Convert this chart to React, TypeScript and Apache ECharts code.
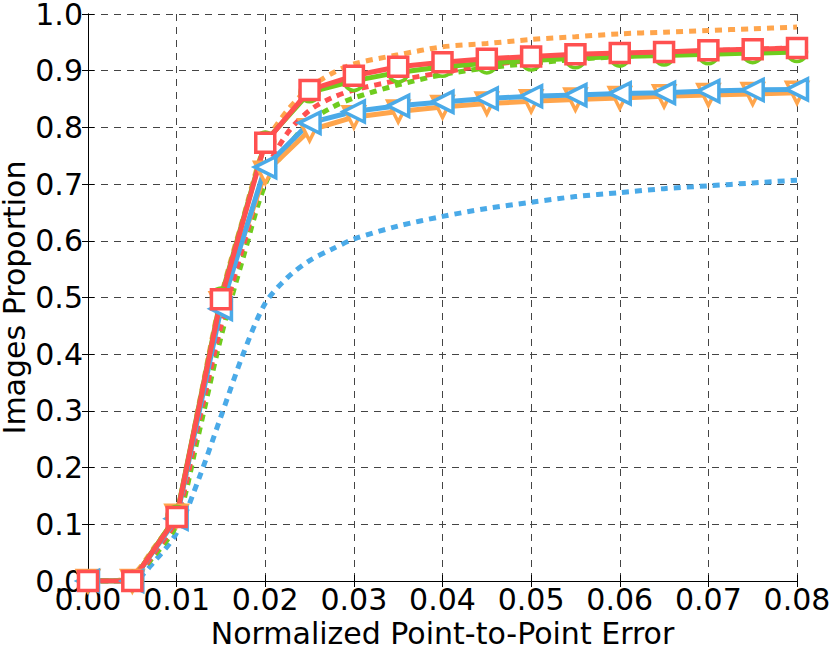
import React, { useEffect, useRef } from "react";
import * as echarts from "echarts";

const solidX = [0, 0.005, 0.01, 0.015, 0.02, 0.025, 0.03, 0.035, 0.04, 0.045, 0.05, 0.055, 0.06, 0.065, 0.07, 0.075, 0.08];
const redSolid = [0, 0, 0.113, 0.497, 0.773, 0.866, 0.891, 0.907, 0.915, 0.921, 0.925, 0.929, 0.931, 0.933, 0.936, 0.938, 0.94];
const greenSolid = [0, 0, 0.115, 0.5, 0.775, 0.862, 0.882, 0.897, 0.907, 0.913, 0.918, 0.922, 0.925, 0.927, 0.929, 0.931, 0.933];
const blueSolid = [0, 0, 0.11, 0.48, 0.73, 0.808, 0.828, 0.838, 0.845, 0.851, 0.855, 0.857, 0.86, 0.861, 0.864, 0.866, 0.867];
const orangeSolid = [0, 0, 0.115, 0.49, 0.72, 0.795, 0.818, 0.828, 0.836, 0.842, 0.846, 0.849, 0.852, 0.855, 0.857, 0.859, 0.861];

const dotX = [0, 0.0025, 0.005, 0.0075, 0.01, 0.0125, 0.015, 0.0175, 0.02, 0.0225, 0.025, 0.0275, 0.03, 0.035, 0.04, 0.045, 0.05, 0.055, 0.06, 0.065, 0.07, 0.075, 0.08];
const redDotted = [0, 0, 0.005, 0.05, 0.11, 0.28, 0.45, 0.59, 0.72, 0.79, 0.83, 0.852, 0.866, 0.883, 0.897, 0.91, 0.918, 0.924, 0.928, 0.932, 0.935, 0.938, 0.94];
const greenDotted = [0, 0, 0.005, 0.045, 0.1, 0.26, 0.43, 0.57, 0.7, 0.765, 0.81, 0.835, 0.852, 0.875, 0.893, 0.905, 0.913, 0.92, 0.925, 0.929, 0.932, 0.935, 0.937];
const orangeDotted = [0, 0, 0.01, 0.06, 0.12, 0.31, 0.5, 0.64, 0.77, 0.83, 0.87, 0.895, 0.912, 0.928, 0.942, 0.948, 0.955, 0.96, 0.965, 0.968, 0.971, 0.974, 0.977];
const blueDotted = [0, 0, 0, 0.035, 0.085, 0.18, 0.29, 0.4, 0.49, 0.535, 0.565, 0.585, 0.603, 0.626, 0.643, 0.657, 0.668, 0.678, 0.685, 0.692, 0.697, 0.702, 0.707];

const RED = "#ff5050";
const GREEN = "#6fcc1e";
const BLUE = "#4aaae8";
const ORANGE = "#ffa54c";
const FONT = "DejaVu Sans";

const pairs = (xs: number[], ys: number[]) => xs.map((x, i) => [x, ys[i]]);

export default function App() {
  const ref = useRef<HTMLDivElement>(null);
  useEffect(() => {
    if (!ref.current) return;
    const chart = echarts.init(ref.current, null, { renderer: "svg" });
    const dotted = (data: number[], color: string) => ({
      type: "line",
      data: pairs(dotX, data),
      smooth: 0.3,
      showSymbol: false,
      symbol: "none",
      lineStyle: { color, width: 5, type: [7, 6] },
    });
    const solid = (data: number[], color: string, symbol: string, rotate: number, size: number) => ({
      type: "line",
      data: pairs(solidX, data),
      symbol,
      symbolSize: size,
      symbolRotate: rotate,
      lineStyle: { color, width: 5 },
      itemStyle: { color: "#ffffff", borderColor: color, borderWidth: 3.5 },
    });
    const axisLabel = { fontFamily: FONT, fontSize: 30, color: "#000" };
    chart.setOption({
      animation: false,
      grid: { left: 88, right: 33, top: 14, bottom: 70, containLabel: false, outerBoundsMode: "none" },
      xAxis: [
        {
          type: "value",
          min: 0,
          max: 0.08,
          interval: 0.01,
          name: "Normalized Point-to-Point Error",
          nameLocation: "middle",
          nameGap: 37,
          nameMoveOverlap: false,
          nameTextStyle: { fontFamily: FONT, fontSize: 30, color: "#000" },
          axisLine: { show: true, onZero: false, lineStyle: { color: "#000", width: 1 } },
          axisTick: { show: true, inside: true, length: 6, lineStyle: { color: "#000" } },
          axisLabel: { ...axisLabel, margin: 3, formatter: (v: number) => v.toFixed(2) },
          splitLine: { show: true, lineStyle: { color: "#444", width: 1, type: [7, 6] } },
        },
        {
          type: "value",
          position: "top",
          min: 0,
          max: 0.08,
          interval: 0.01,
          axisLine: { show: true, lineStyle: { color: "#000", width: 1 } },
          axisTick: { show: true, inside: true, length: 6, lineStyle: { color: "#000" } },
          axisLabel: { show: false },
          splitLine: { show: false },
        },
      ],
      yAxis: [
        {
          type: "value",
          min: 0,
          max: 1,
          interval: 0.1,
          name: "Images Proportion",
          nameLocation: "middle",
          nameGap: 59,
          nameMoveOverlap: false,
          nameTextStyle: { fontFamily: FONT, fontSize: 30, color: "#000" },
          axisLine: { show: true, onZero: false, lineStyle: { color: "#000", width: 1 } },
          axisTick: { show: true, inside: true, length: 6, lineStyle: { color: "#000" } },
          axisLabel: { ...axisLabel, margin: 5, formatter: (v: number) => v.toFixed(1) },
          splitLine: { show: true, lineStyle: { color: "#444", width: 1, type: [7, 6] } },
        },
        {
          type: "value",
          position: "right",
          min: 0,
          max: 1,
          interval: 0.1,
          axisLine: { show: true, lineStyle: { color: "#000", width: 1 } },
          axisTick: { show: true, inside: true, length: 6, lineStyle: { color: "#000" } },
          axisLabel: { show: false },
          splitLine: { show: false },
        },
      ],
      series: [
        dotted(blueDotted, BLUE),
        dotted(greenDotted, GREEN),
        dotted(redDotted, RED),
        dotted(orangeDotted, ORANGE),
        solid(orangeSolid, ORANGE, "triangle", 180, 21),
        solid(blueSolid, BLUE, "triangle", 90, 21),
        solid(greenSolid, GREEN, "circle", 0, 19),
        solid(redSolid, RED, "rect", 0, 19),
      ],
    });
    return () => chart.dispose();
  }, []);
  return <div ref={ref} style={{ width: 830, height: 651, position: "absolute", left: 0, top: 0 }} />;
}
